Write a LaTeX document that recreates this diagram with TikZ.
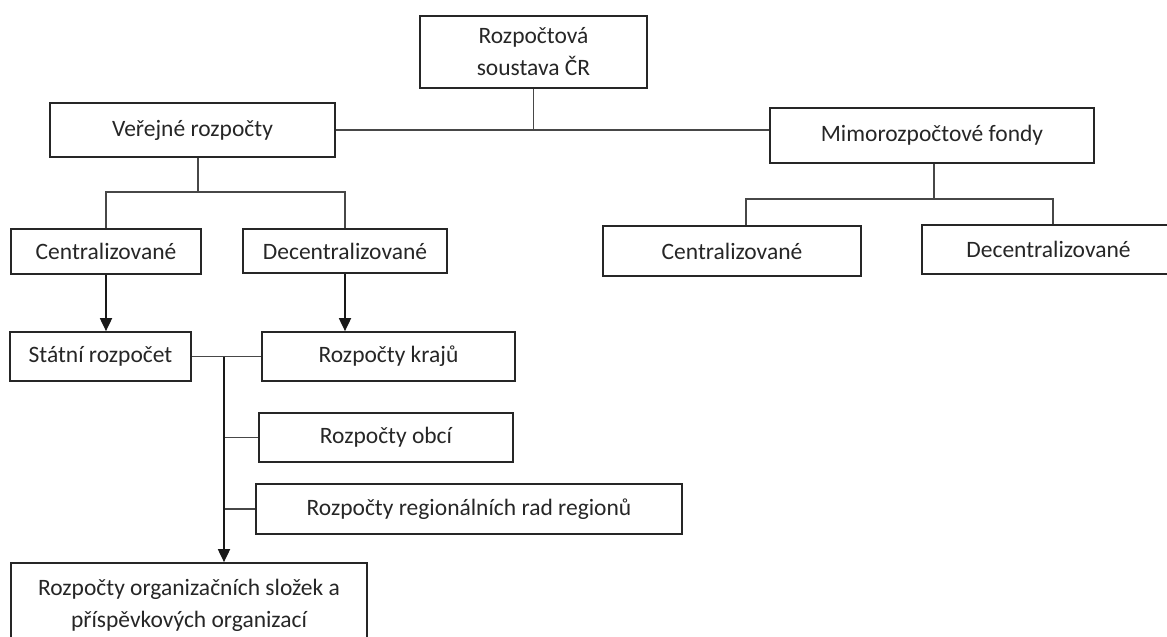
\documentclass[tikz,border=0pt]{standalone}
\usepackage{fontspec}
\setmainfont{Carlito}
\usetikzlibrary{arrows.meta,calc}

\tikzset{
  box/.style={draw=black!85, line width=1.7pt, align=center, inner sep=0pt,
    text=black!85, font=\fontsize{23.5}{32}\selectfont},
  link/.style={draw=black!72, line width=1.2pt},
  flow/.style={draw=black!90, line width=1.8pt,
    -{Triangle[length=13pt,width=12pt]}}
}

\begin{document}
\begin{tikzpicture}[x=1pt,y=-1pt]
  \useasboundingbox (0,0) rectangle (1167,637);
  \clip (0,0) rectangle (1167,637);

  % top level
  \node[box, minimum width=227pt, minimum height=72pt] (top) at (533.5,52)
    {Rozpočtová\\soustava ČR};
  \node[box, minimum width=285pt, minimum height=54pt] (ver) at (192.5,130)
    {Veřejné rozpočty};
  \node[box, minimum width=324pt, minimum height=55pt] (mimo) at (932,135.5)
    {Mimorozpočtové fondy};

  % second level
  \node[box, minimum width=190pt, minimum height=45pt] (cenL) at (106,251.5)
    {Centralizované};
  \node[box, minimum width=204pt, minimum height=44pt] (decL) at (345,251)
    {Decentralizované};
  \node[box, minimum width=258pt, minimum height=50pt] (cenR) at (732,251)
    {Centralizované};
  \node[box, minimum width=253pt, minimum height=49pt] (decR) at (1048.5,249.5)
    {Decentralizované};

  % budgets
  \node[box, minimum width=181pt, minimum height=49pt] (stat) at (100.5,356.5)
    {Státní rozpočet};
  \node[box, minimum width=253pt, minimum height=49pt] (kraj) at (388.5,356.5)
    {Rozpočty krajů};
  \node[box, minimum width=254pt, minimum height=49pt] (obci) at (386,437.5)
    {Rozpočty obcí};
  \node[box, minimum width=426pt, minimum height=50pt] (reg) at (469,509)
    {Rozpočty regionálních rad regionů};
  \node[box, minimum width=356pt, minimum height=84pt] (org) at (189,605)
    {Rozpočty organizačních složek a\\příspěvkových organizací};

  % junction points
  \coordinate (vj) at (198,192);
  \coordinate (mj) at (934,199);
  \coordinate (tr) at (224,356.5);

  % top tree
  \draw[link] (top.south) -- (top.south |- ver.east);
  \draw[link] (ver.east) -- (ver.east -| mimo.west);

  % public budgets branch
  \draw[link] (ver.south -| vj) -- (vj);
  \draw[link] (cenL.north) |- (vj) -| (decL.north);

  % extra-budgetary funds branch
  \draw[link] (mimo.south -| mj) -- (mj);
  \draw[link] ([xshift=14pt]cenR.north) |- (mj) -| ([xshift=4.5pt]decR.north);

  % arrows to budgets
  \draw[flow] (cenL.south) -- (cenL.south |- stat.north);
  \draw[flow] (decL.south) -- (decL.south |- kraj.north);

  % budget links
  \draw[link] (stat.east) -- (kraj.west);
  \draw[link] (tr |- obci.west) -- (obci.west);
  \draw[link] (tr |- reg.west) -- (reg.west);
  \draw[flow] (tr) -- (tr |- org.north);
\end{tikzpicture}
\end{document}
